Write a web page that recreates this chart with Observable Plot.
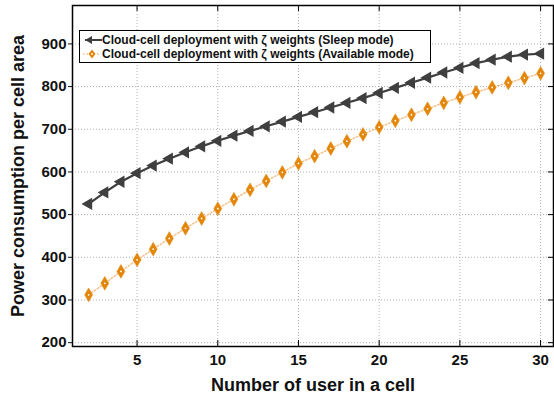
<!DOCTYPE html>
<html>
<head>
<meta charset="utf-8">
<script src="https://cdn.jsdelivr.net/npm/d3@7"></script>
<script src="https://cdn.jsdelivr.net/npm/@observablehq/plot@0.6"></script>
<style>
  html, body { margin: 0; padding: 0; background: #fff; }
  #wrap { position: relative; width: 554px; height: 398px; font-family: "Liberation Sans", Arial, Helvetica, sans-serif; }
  #legend { position: absolute; left: 79px; top: 30px; width: 350px; height: 31px; border: 1.5px solid #000; background: #fff; font-weight: bold; font-size: 12px; color: #111; }
  .row { position: absolute; left: 0; height: 14px; line-height: 14px; white-space: nowrap; }
  .row svg { position: absolute; left: 2px; top: 0; }
  .row span { position: absolute; left: 22px; top: 0; }
</style>
</head>
<body>
<div id="wrap"></div>
<script>
const users = d3.range(2, 31);
const sleepMode = [525,552,577,597,615,631,646,660,673,685,696,707,718,729,740,751,762,773,785,797,809,821,833,844,855,863,870,875,877];
const availableMode = [312,339,367,394,419,444,468,491,514,536,558,579,599,620,637,655,672,688,705,720,734,748,762,775,787,798,809,820,831];
const seriesNames = ["Cloud-cell deployment with ζ weights (Sleep mode)", "Cloud-cell deployment with ζ weights (Available mode)"];
const xTicks = [5, 10, 15, 20, 25, 30];
const yTicks = [200, 300, 400, 500, 600, 700, 800, 900];

const sleepData = users.map((u, i) => ({x: u, y: sleepMode[i]}));
const availData = users.map((u, i) => ({x: u, y: availableMode[i]}));

const gray = "#3f3f3f";
const orange = "#e3860a";
const peach = "#f6c08a";
const font = "'Liberation Sans', Arial, Helvetica, sans-serif";
const yMin = 191, yMax = 990;
const tickLen = 6 / 0.427;

const chart = Plot.plot({
  width: 554,
  height: 398,
  marginLeft: 72,
  marginRight: 1,
  marginTop: 5,
  marginBottom: 52,
  style: {fontFamily: font, fontWeight: "bold", fontSize: "15px", color: "#111", background: "#fff"},
  x: {domain: [1, 30.8]},
  y: {domain: [yMin, yMax]},
  marks: [
    Plot.gridX(xTicks, {stroke: "#9a9a9a", strokeOpacity: 1, strokeWidth: 0.8, strokeDasharray: "1,2"}),
    Plot.gridY(yTicks, {stroke: "#9a9a9a", strokeOpacity: 1, strokeWidth: 0.8, strokeDasharray: "1,2"}),
    Plot.axisX(xTicks, {tickSize: 0, tickPadding: 8, fontSize: 15, fontWeight: "bold", label: null}),
    Plot.axisY(yTicks, {tickSize: 4, tickPadding: 2, fontSize: 15, fontWeight: "bold", label: null}),
    Plot.axisX([], {fontSize: 18, fontWeight: "bold", label: "Number of user in a cell", labelAnchor: "center", labelArrow: "none", labelOffset: 44}),
    Plot.axisY([], {fontSize: 18, fontWeight: "bold", label: "Power consumption per cell area", labelAnchor: "center", labelArrow: "none", labelOffset: 61}),
    Plot.ruleX(xTicks, {x: d => d, y1: yMin, y2: yMin + tickLen, stroke: "#000", strokeWidth: 1}),
    Plot.ruleX(xTicks, {x: d => d, y1: yMax, y2: yMax - tickLen, stroke: "#000", strokeWidth: 1}),
    Plot.ruleY(yTicks, {y: d => d, x1: 30.8, x2: 30.8 - 5 / 16.14, stroke: "#000", strokeWidth: 1}),
    Plot.frame({stroke: "#000", strokeWidth: 1.5}),
    Plot.line(availData, {x: "x", y: "y", stroke: peach, strokeWidth: 1.5, strokeDasharray: "1.5,2"}),
    Plot.dot(availData, {x: "x", y: "y", symbol: "diamond", r: 4.2, fill: orange, stroke: orange, strokeWidth: 0.5}),
    Plot.dot(availData, {x: "x", y: "y", r: 0.9, fill: "#fff"}),
    Plot.line(sleepData, {x: "x", y: "y", stroke: gray, strokeWidth: 2.2}),
    Plot.dot(sleepData, {x: "x", y: "y", symbol: "triangle", rotate: -90, r: 3.6, fill: gray, stroke: gray})
  ]
});

const wrap = document.getElementById("wrap");
wrap.appendChild(chart);

const legend = document.createElement("div");
legend.id = "legend";
legend.innerHTML = `
  <div class="row" style="top:2px">
    <svg width="20" height="14"><line x1="3" y1="7" x2="20" y2="7" stroke="${gray}" stroke-width="2"/><path d="M3,7 L10,3 L10,11 Z" fill="${gray}"/></svg>
    <span>${seriesNames[0]}</span>
  </div>
  <div class="row" style="top:16px">
    <svg width="20" height="14"><line x1="1" y1="7" x2="19" y2="7" stroke="${peach}" stroke-width="1.5" stroke-dasharray="1.5,2"/><path d="M10,2.5 L13.5,7 L10,11.5 L6.5,7 Z" fill="${orange}"/><circle cx="10" cy="7" r="0.9" fill="#fff"/></svg>
    <span>${seriesNames[1]}</span>
  </div>`;
wrap.appendChild(legend);
</script>
</body>
</html>
